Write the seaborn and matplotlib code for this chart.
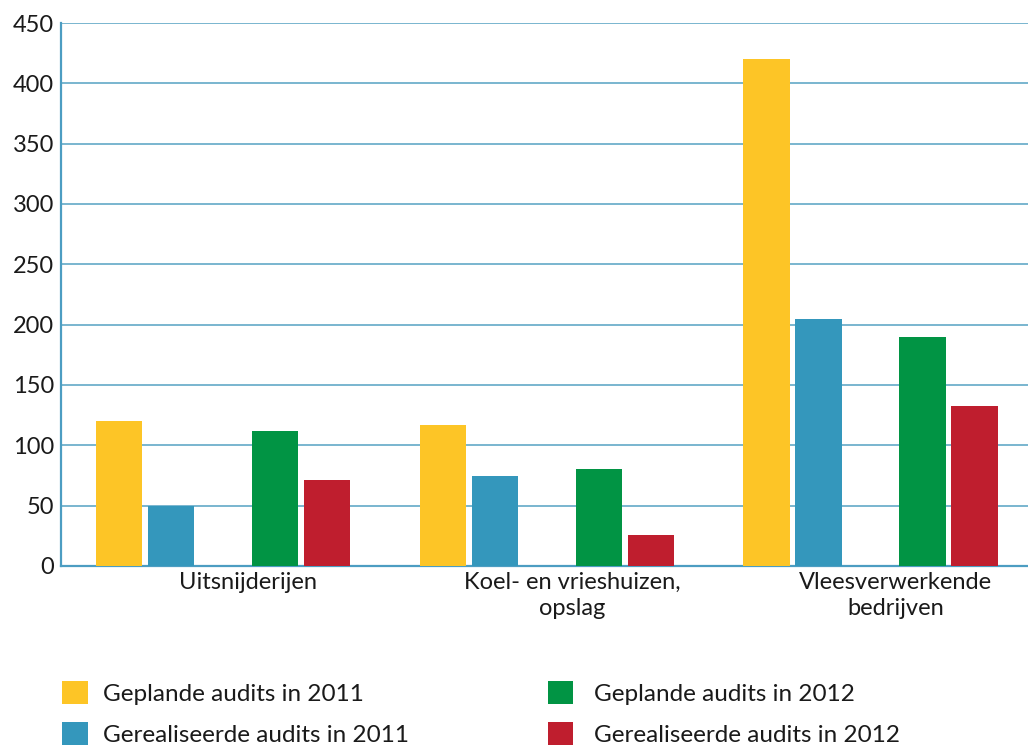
import numpy as np
import pandas as pd
import matplotlib
matplotlib.use("Agg")
import matplotlib.pyplot as plt
import matplotlib.transforms as mtransforms
from matplotlib.patches import Patch
import seaborn as sns

# data
categories = ["Uitsnijderijen", "Koel- en vrieshuizen,\nopslag", "Vleesverwerkende\nbedrijven"]
gepland_2011 = [120, 117, 420]
gerealiseerd_2011 = [50, 75, 205]
gepland_2012 = [112, 80, 190]
gerealiseerd_2012 = [71, 26, 133]

series_names = ["Geplande audits in 2011", "Gerealiseerde audits in 2011",
                "Geplande audits in 2012", "Gerealiseerde audits in 2012"]
series_colors = ["#FDC526", "#3497BC", "#019444", "#BF1E2E"]
y_ticks = [0, 50, 100, 150, 200, 250, 300, 350, 400, 450]

sns.set_theme(style="white")
plt.rcParams['font.family'] = ['Lato', 'DejaVu Sans']

rows = []
for name, vals in zip(series_names, [gepland_2011, gerealiseerd_2011, gepland_2012, gerealiseerd_2012]):
    for cat, v in zip(categories, vals):
        rows.append({"categorie": cat, "reeks": name, "aantal": v})
df = pd.DataFrame(rows)

# empty spacer level keeps a gap between 2011 and 2012 bars
spacer = " "
hue_order = series_names[:2] + [spacer] + series_names[2:]
palette = dict(zip(series_names, series_colors))
palette[spacer] = "#FFFFFF"

grid_col = "#79B6CF"
axis_col = "#4C9DC2"

fig = plt.figure(figsize=(10.28, 7.49), dpi=100)
ax = fig.add_axes([61 / 1028, 1 - 566 / 749, 1 - 61 / 1028, (566 - 23) / 749])

sns.barplot(data=df, x="categorie", y="aantal", hue="reeks", order=categories,
            hue_order=hue_order, palette=palette, width=0.8025, gap=0.1,
            saturation=1, linewidth=0, legend=False, ax=ax, zorder=3)

ax.set_ylim(0, 450)
ax.set_xlim(-0.5, 2.485)
ax.set_yticks(y_ticks)
ax.yaxis.grid(True, color=grid_col, linewidth=1.4, zorder=0)
ax.set_axisbelow(True)
ax.set_xlabel("")
ax.set_ylabel("")

for side in ["top", "right"]:
    ax.spines[side].set_visible(False)
for side in ["left", "bottom"]:
    ax.spines[side].set_color(axis_col)
    ax.spines[side].set_linewidth(1.6)

ax.tick_params(axis="y", length=0, pad=5, labelsize=17, labelcolor="#1a1a1a")
ax.tick_params(axis="x", which="major", length=0, pad=4, labelsize=17, labelcolor="#1a1a1a")
ax.set_xticks([0.5, 1.5], minor=True)
ax.tick_params(axis="x", which="minor", direction="in", length=9.5, width=1.2, color=axis_col)

# category labels sit a bit right of the group centre
shift = mtransforms.ScaledTranslation(0.25, 0, fig.dpi_scale_trans)
for lbl in ax.get_xticklabels():
    lbl.set_transform(lbl.get_transform() + shift)
    lbl.set_linespacing(1.3)

fs = 17.5
handles = [Patch(facecolor=c, edgecolor="none") for c in series_colors]
leg1 = fig.legend(handles[:2], series_names[:2], loc="upper left",
                  bbox_to_anchor=(62 / 1028, 1 - 681 / 749), frameon=False, fontsize=fs,
                  borderpad=0, borderaxespad=0, handlelength=1.07, handleheight=1.05,
                  handletextpad=0.62, labelspacing=0.72)
leg2 = fig.legend(handles[2:], series_names[2:], loc="upper left",
                  bbox_to_anchor=(548 / 1028, 1 - 681 / 749), frameon=False, fontsize=fs,
                  borderpad=0, borderaxespad=0, handlelength=1.02, handleheight=1.05,
                  handletextpad=0.86, labelspacing=0.72)
for leg in (leg1, leg2):
    for t in leg.get_texts():
        t.set_color("#1a1a1a")

fig.savefig("out.png", dpi=100)
